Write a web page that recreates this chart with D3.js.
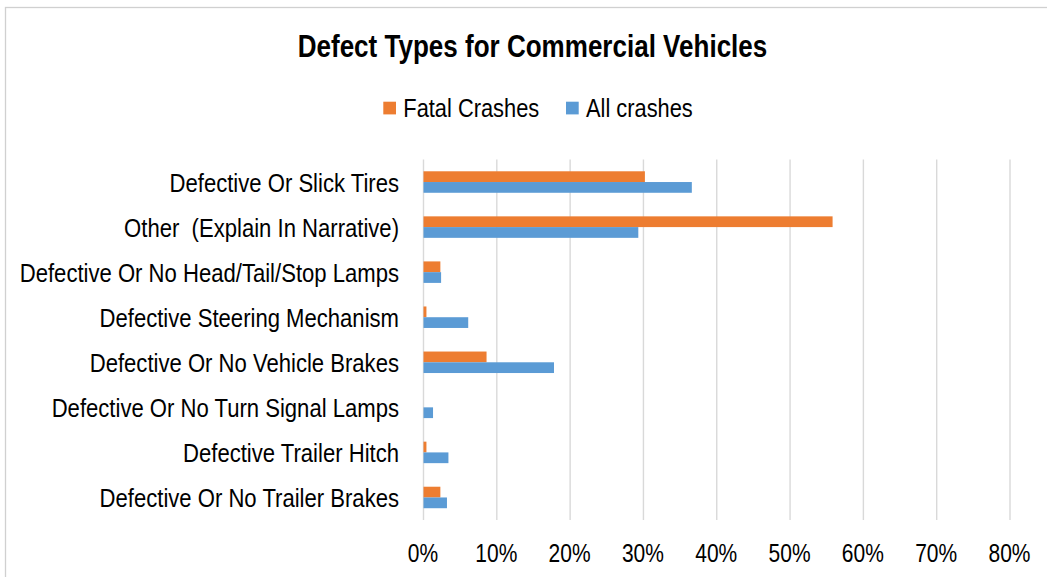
<!DOCTYPE html>
<html>
<head>
<meta charset="utf-8">
<script src="https://cdn.jsdelivr.net/npm/d3@7"></script>
<style>
  body { margin: 0; background: #fff; }
  text { font-family: "Liberation Sans", Arial, sans-serif; fill: #000; }
</style>
</head>
<body>
<div id="gv"></div>
<script>
console.log("defect types chart loaded");

let categories = [
  "Defective Or Slick Tires",
  "Other  (Explain In Narrative)",
  "Defective Or No Head/Tail/Stop Lamps",
  "Defective Steering Mechanism",
  "Defective Or No Vehicle Brakes",
  "Defective Or No Turn Signal Lamps",
  "Defective Trailer Hitch",
  "Defective Or No Trailer Brakes"
];
let seriesNames = ["Fatal Crashes", "All crashes"];
let fatalCrashes = [0.302, 0.558, 0.023, 0.004, 0.086, 0, 0.004, 0.023];
let allCrashes = [0.366, 0.293, 0.024, 0.061, 0.178, 0.013, 0.034, 0.032];
let tickValues = [0, 0.1, 0.2, 0.3, 0.4, 0.5, 0.6, 0.7, 0.8];

let width = 1047;
let height = 577;
let colors = ["#ED7D31", "#5B9BD5"];
let squeeze = "scale(0.84,1)"; // the screenshot's type is a bit narrow

let viz = d3.select("#gv")
  .append("svg")
    .attr("width", width)
    .attr("height", height)
;

// chart frame (runs off the right and bottom edge like the screenshot)
viz.append("rect")
  .attr("x", 5.5)
  .attr("y", 7.5)
  .attr("width", width + 20)
  .attr("height", height + 20)
  .attr("fill", "none")
  .attr("stroke", "#d0d0d0")
  .attr("stroke-width", 1.3)
;

let xScale = d3.scaleLinear().domain([0, 0.8]).range([423.5, 1010]);
let yScale = d3.scaleBand().domain(categories).range([159.5, 520]);
let barH = yScale.bandwidth() * 0.477 / 2;

// gridlines
viz.selectAll(".grid").data(tickValues)
  .enter()
    .append("line")
    .attr("class", "grid")
    .attr("x1", d => xScale(d))
    .attr("x2", d => xScale(d))
    .attr("y1", 159.5)
    .attr("y2", 520)
    .attr("stroke", "#d9d9d9")
    .attr("stroke-width", 1.4)
;

let rows = categories.map((c, i) => ({ cat: c, vals: [fatalCrashes[i], allCrashes[i]] }));

let groups = viz.selectAll(".row").data(rows)
  .enter()
    .append("g")
    .attr("class", "row")
    .attr("transform", d => "translate(0," + (yScale(d.cat) + yScale.bandwidth() / 2) + ")")
;

groups.selectAll("rect").data(d => d.vals)
  .enter()
    .append("rect")
    .attr("x", xScale(0))
    .attr("y", (d, i) => i == 0 ? -barH : 0)
    .attr("width", d => xScale(d) - xScale(0))
    .attr("height", barH)
    .attr("fill", (d, i) => colors[i])
;

// category labels
let yAxis = d3.axisLeft(yScale).tickSize(0).tickPadding(0);
let yG = viz.append("g")
  .attr("transform", "translate(399,0)")
  .call(yAxis)
;
yG.select(".domain").remove();
yG.selectAll("text")
  .attr("font-size", 26)
  .attr("font-family", null)
  .attr("x", 0)
  .attr("dy", "0.37em")
  .attr("transform", "scale(0.85,1)")
  .style("white-space", "pre")
;

// percent ticks
let xAxis = d3.axisBottom(xScale).tickValues(tickValues).tickFormat(d3.format(".0%")).tickSize(0).tickPadding(0);
let xG = viz.append("g")
  .attr("transform", "translate(-1,562)")
  .call(xAxis)
;
xG.select(".domain").remove();
xG.selectAll("text")
  .attr("font-size", 25)
  .attr("font-family", null)
  .attr("dy", 0)
  .attr("y", 0)
  .attr("transform", squeeze)
;

// title
viz.append("text")
  .attr("transform", "translate(532.5,57.3) " + squeeze)
  .attr("text-anchor", "middle")
  .attr("font-size", 31)
  .attr("font-weight", "bold")
  .text("Defect Types for Commercial Vehicles")
;

// legend
let legendX = [383.3, 566];
let legend = viz.selectAll(".legend").data(seriesNames)
  .enter()
    .append("g")
    .attr("class", "legend")
    .attr("transform", (d, i) => "translate(" + legendX[i] + ",0)")
;
legend.append("rect")
  .attr("x", 0)
  .attr("y", 101.7)
  .attr("width", 12.7)
  .attr("height", 12.7)
  .attr("fill", (d, i) => colors[i])
;
legend.append("text")
  .attr("transform", "translate(20,116.7) " + squeeze)
  .attr("font-size", 26)
  .text(d => d)
;
</script>
</body>
</html>
